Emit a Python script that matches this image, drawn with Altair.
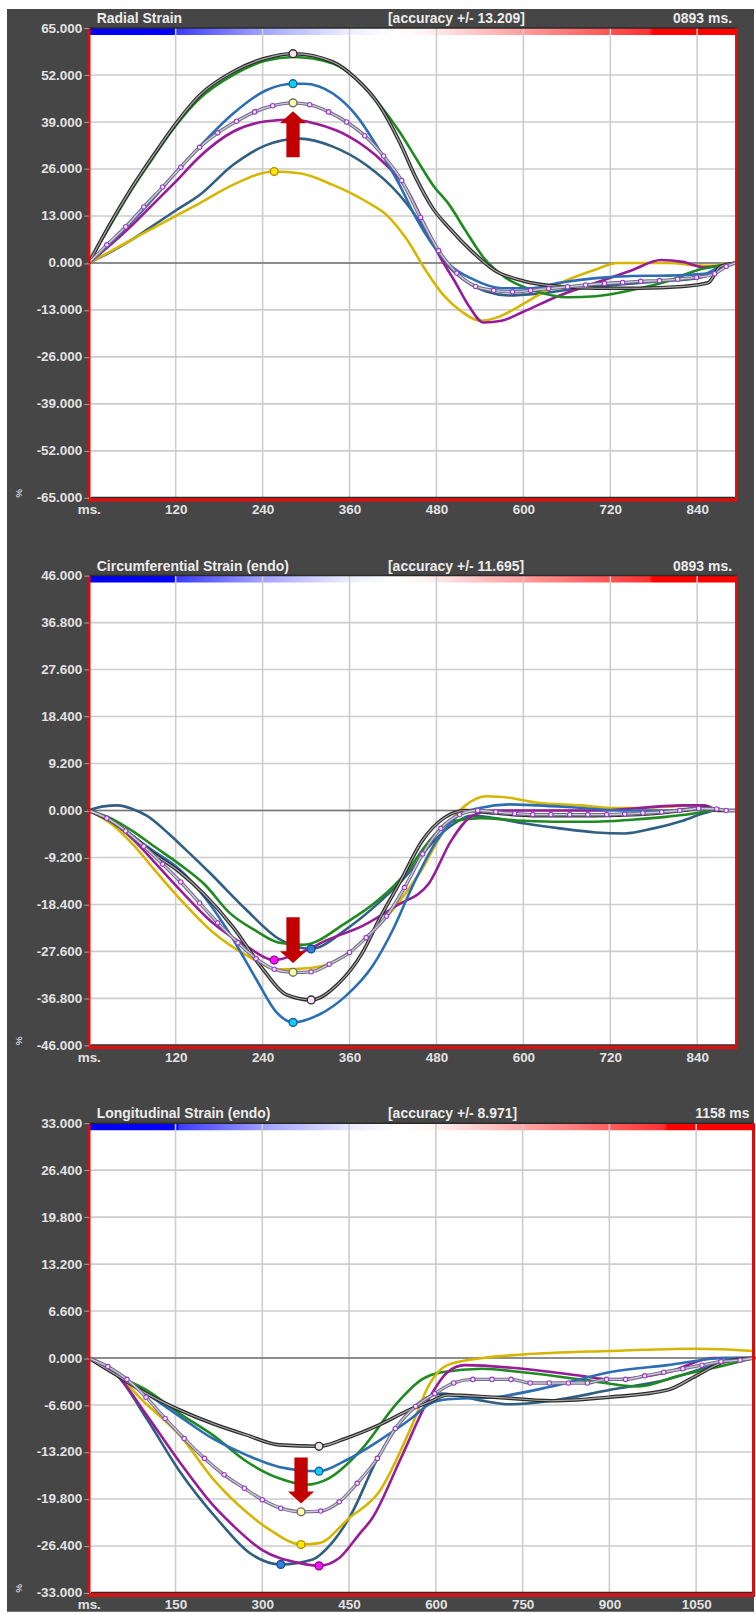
import altair as alt
import pandas as pd

# ---------------- colours ----------------
BG = "#464646"
GRID = "#cdcdcd"
C_GREEN = "#1f8a1f"
C_BLUE = "#2c6db4"
C_PURPLE = "#981c98"
C_SLATE = "#2f5f82"
C_YELLOW = "#d6b600"

# ---------------- Panel 1 : Radial Strain ----------------
P1_BLACK = [(0,0),(30,11),(60,21),(90,30),(120,38.5),(153,46.4),(199,52.9),(245,56.7),(282,57.9),(337,55.6),(369,51),(401,43.7),(429,33.5),(452,23.4),(475,15.1),(498,9.6),(530,3),(560,-2),(600,-5),(650,-6.5),(700,-7),(760,-7),(820,-6.5),(855,-5.5),(872,-1),(893,0)]
P1_GREEN = [(0,0),(30,10.5),(60,20.5),(90,29.5),(120,38),(153,45.5),(199,52),(245,56),(282,57),(337,55.2),(369,51),(401,44),(429,36.3),(452,28.9),(475,21.6),(498,16),(520,9),(545,1.5),(575,-4),(620,-8),(660,-9.5),(700,-9.2),(750,-7.5),(800,-5),(840,-2),(870,-0.8),(893,0)]
P1_BLUE = [(0,0),(30,5.5),(60,11.5),(90,18),(120,25),(153,32.2),(199,41.3),(245,47.8),(282,49.6),(297,49.6),(337,46.9),(369,40.9),(397,32.6),(429,21.6),(452,12.4),(475,5),(498,-0.5),(530,-4.5),(570,-7),(610,-7),(650,-5.5),(700,-4.2),(750,-3.6),(800,-3.5),(850,-3),(872,-1),(893,0)]
P1_PURPLE = [(0,0),(30,5),(60,10.5),(90,16.5),(120,22.5),(153,29.4),(199,36.3),(245,39.2),(282,39.7),(314,38.5),(360,34.9),(406,28),(438,20.7),(466,9.6),(484,2),(505,-5),(525,-12),(545,-16.5),(570,-16),(600,-13.5),(650,-9),(700,-5.5),(750,-2),(790,0.8),(820,0.3),(850,-1.2),(872,-0.8),(893,0)]
P1_SLATE = [(0,0),(30,3),(60,6.5),(90,10.5),(120,14.5),(153,18.8),(199,27.1),(245,32.6),(291,34.4),(337,32.2),(383,27.1),(429,18.8),(466,8.7),(491,0.4),(520,-5),(550,-8),(580,-9),(620,-8.5),(660,-7.5),(720,-6.2),(780,-5.2),(840,-4.2),(860,-3),(875,-0.8),(893,0)]
P1_YELLOW = [(0,0),(30,3.2),(60,6.5),(90,9.8),(120,13),(153,16.5),(199,21.6),(256,25.3),(291,24.8),(337,21.6),(383,17),(411,13.3),(438,6.8),(466,-2.3),(490,-9),(515,-13.5),(540,-16),(565,-15),(590,-12.5),(620,-9),(660,-4.8),(700,-1.8),(730,0),(800,0),(850,-0.8),(893,0)]
P1_AVG = [(0,0),(25,5),(51,10),(76,15.5),(102,21),(127,26.5),(153,32),(178,36),(204,39.2),(229,41.8),(254,43.5),(280,44.3),(305,43.8),(331,41.8),(356,39),(381,35.2),(407,29.6),(432,22.8),(458,12.6),(483,3.4),(508,-2.8),(534,-6.5),(559,-7.6),(585,-8),(610,-7.6),(635,-7.1),(661,-6.6),(686,-6.1),(712,-5.7),(737,-5.4),(762,-5.1),(788,-4.9),(813,-4.5),(839,-4),(864,-3),(880,-1),(893,0)]
P1_MK_MS = [282, 282, 282, 256]
P1_MK_V = [57.9, 49.6, 44.3, 25.3]
P1_MK_FILL = ["#f4e2f0", "#10d0f0", "#ffffa8", "#ffe600"]
P1_MK_STROKE = ["#303030", "#1d5fa0", "#707070", "#b09000"]
P1_ARROW = [(282, 35.6)]

# ---------------- Panel 2 : Circumferential Strain ----------------
P2_BLACK = [(0,0),(30,-2),(60,-5),(90,-8.5),(125,-12),(160,-16.5),(200,-23),(240,-31),(272,-36),(307,-37.1),(346,-33.7),(378,-27.8),(401,-21.3),(429,-14.2),(460,-6),(490,-1.5),(520,0),(560,-0.5),(620,-1),(700,-1),(760,-0.8),(820,0),(850,0.5),(870,0),(893,0)]
P2_BLUE = [(0,0),(30,-2),(60,-5),(90,-8),(125,-11.5),(160,-17),(194,-24),(231,-33),(259,-39.5),(282,-41.5),(319,-39.9),(355,-36.3),(392,-30.4),(420,-23.3),(447,-14.8),(480,-6),(510,-1),(540,0.5),(580,1.2),(620,1),(680,0.5),(740,0),(800,0),(840,0.5),(865,0),(893,0)]
P2_GREEN = [(0,0),(30,-1.5),(60,-4),(90,-7),(125,-10.5),(160,-14.5),(194,-20),(230,-23.5),(263,-25.9),(296,-26.3),(355,-22),(401,-17.4),(438,-12.2),(470,-6),(500,-2.2),(540,-1.5),(600,-2),(650,-2.2),(700,-2.2),(750,-1.8),(800,-1.2),(840,-0.5),(860,0),(893,0)]
P2_SLATE = [(0,0),(20,0.8),(40,1),(60,0.3),(80,-1),(110,-4.5),(140,-8.5),(167,-12.2),(217,-19.4),(263,-25.2),(307,-27.1),(355,-23.3),(401,-18),(442,-12.2),(470,-7),(500,-3),(530,-1),(560,-1.5),(600,-2.5),(650,-3.5),(700,-4.3),(740,-4.5),(780,-3.5),(820,-2),(850,-0.5),(865,0),(893,0)]
P2_PURPLE = [(0,0),(30,-2),(60,-5.5),(90,-10),(125,-15.4),(171,-22),(217,-26.5),(256,-29.3),(286,-28.2),(332,-25.2),(378,-22.6),(424,-18.7),(470,-14.2),(500,-6),(530,-1),(560,0),(620,0),(700,0),(760,0.5),(820,1),(850,1),(870,0),(893,0)]
P2_YELLOW = [(0,0),(30,-2.5),(60,-6.5),(90,-11.5),(125,-17.2),(171,-23.8),(217,-28.3),(263,-31.1),(309,-30.8),(355,-28.3),(383,-24.9),(424,-18.7),(457,-12.2),(490,-4),(520,1),(550,2.8),(580,2.5),(620,1.5),(680,1),(720,0.5),(760,0.5),(800,0.8),(840,1),(860,0),(893,0)]
P2_AVG = [(0,0),(25,-1.5),(51,-4),(76,-7),(102,-10.5),(127,-14),(153,-18.1),(178,-22),(206,-25.9),(231,-29),(256,-31.1),(282,-31.7),(307,-31.6),(332,-30.1),(360,-27.8),(383,-24.9),(411,-20.7),(436,-15.1),(461,-8.5),(486,-3.5),(512,-0.8),(537,0),(562,-0.3),(588,-0.6),(613,-0.8),(638,-0.8),(664,-0.8),(689,-0.8),(715,-0.8),(740,-0.7),(765,-0.5),(791,-0.3),(816,0),(842,0.4),(867,0.3),(880,0),(893,0)]
P2_MK_MS = [282, 307, 282, 256, 307]
P2_MK_V = [-41.5, -37.1, -31.7, -29.3, -27.1]
P2_MK_FILL = ["#10d0f0", "#f4e2f0", "#ffffa8", "#ff10ff", "#2f7fe0"]
P2_MK_STROKE = ["#1d5fa0", "#303030", "#707070", "#901090", "#1d4f90"]
P2_ARROW = [(282, -25.4)]

# ---------------- Panel 3 : Longitudinal Strain ----------------
P3_BLACK = [(0,0),(50,-2.5),(100,-5),(157,-7.3),(214,-9.2),(272,-10.8),(329,-12.2),(398,-12.4),(444,-11.3),(502,-9.4),(559,-7.1),(588,-6.2),(620,-5.2),(700,-5.5),(800,-6),(900,-5.5),(1000,-4.5),(1050,-2.5),(1100,-0.5),(1150,0)]
P3_BLUE = [(0,0),(50,-2.5),(100,-5),(157,-8.2),(214,-11.3),(272,-13.6),(329,-15.3),(398,-15.9),(444,-14.4),(502,-11.6),(559,-8.4),(588,-6.5),(620,-5.8),(700,-5.5),(800,-4),(900,-2),(1000,-1),(1100,0),(1150,0)]
P3_GREEN = [(0,0),(50,-2.5),(100,-4.5),(157,-7.8),(214,-10.8),(272,-14.5),(329,-16.9),(375,-17.8),(415,-16.9),(473,-12.7),(530,-6.6),(576,-3),(610,-2),(680,-1.5),(750,-2),(850,-3),(950,-4),(1020,-2.5),(1100,-1),(1150,0)]
P3_PURPLE = [(0,0),(50,-2.5),(100,-8),(157,-14.6),(214,-20.6),(249,-23.5),(300,-27),(364,-28.8),(398,-29.2),(433,-28.1),(467,-24.8),(490,-22.5),(540,-14),(588,-5.7),(620,-2),(650,-1),(750,-1.5),(850,-2.5),(900,-3),(1000,-2),(1080,0),(1150,0)]
P3_SLATE = [(0,0),(50,-2.5),(100,-8.5),(157,-15.9),(226,-23),(280,-27.5),(332,-29),(387,-28.3),(420,-26),(450,-22.5),(500,-14),(560,-7),(610,-5),(680,-6),(730,-6.5),(800,-6),(900,-4.5),(1000,-3),(1080,-1),(1120,0),(1150,0)]
P3_YELLOW = [(0,0),(50,-2.5),(100,-6.5),(157,-10.8),(214,-16.9),(272,-21.6),(318,-24.4),(367,-26.2),(398,-26),(450,-22.5),(502,-18.8),(559,-9.4),(588,-3.8),(620,-1),(681,0),(750,0.5),(900,1),(1050,1.3),(1150,1)]
P3_AVG = [(0,0),(33,-1.2),(66,-3),(99,-5.5),(132,-8.5),(165,-11.3),(200,-14.1),(234,-16.4),(269,-18.3),(300,-19.9),(332,-21.1),(367,-21.6),(401,-21.5),(433,-20.2),(464,-17.6),(499,-14.1),(530,-9.9),(565,-6.8),(598,-5),(631,-3.5),(664,-3),(697,-3),(730,-3),(763,-3.5),(796,-3.5),(829,-3.5),(862,-3.5),(895,-3),(928,-3),(961,-2.5),(994,-2),(1027,-1.5),(1060,-1),(1093,-0.5),(1126,-0.3),(1150,0)]
P3_MK_MS = [398, 398, 367, 367, 332, 398]
P3_MK_V = [-12.4, -15.9, -21.6, -26.2, -29.0, -29.2]
P3_MK_FILL = ["#f4e2f0", "#10d0f0", "#ffffa8", "#ffe600", "#2f7fe0", "#ff10ff"]
P3_MK_STROKE = ["#303030", "#1d5fa0", "#707070", "#b09000", "#1d4f90", "#901090"]
P3_ARROW = [(367, -17.2)]

# ---------------- axes ticks ----------------
P1_XTICKS = [0, 120, 240, 360, 480, 600, 720, 840]
P1_YTICKS = [-65, -52, -39, -26, -13, 0, 13, 26, 39, 52, 65]
P2_YTICKS = [-46, -36.8, -27.6, -18.4, -9.2, 0, 9.2, 18.4, 27.6, 36.8, 46]
P3_XTICKS = [0, 150, 300, 450, 600, 750, 900, 1050]
P3_YTICKS = [-33, -26.4, -19.8, -13.2, -6.6, 0, 6.6, 13.2, 19.8, 26.4, 33]

UP_ARROW = "M0,-1 L0.57,-0.48 L0.29,-0.48 L0.29,1 L-0.29,1 L-0.29,-0.48 L-0.57,-0.48 Z"
DOWN_ARROW = "M0,1 L0.57,0.48 L0.29,0.48 L0.29,-1 L-0.29,-1 L-0.29,0.48 L-0.57,0.48 Z"

FONT = "Liberation Sans"
LABEL_COL = "#e2e2e2"
ONE = pd.DataFrame({"a": [0]})

GRADIENT = alt.LinearGradient(
    gradient="linear", x1=0, x2=1, y1=0, y2=0,
    stops=[
        alt.GradientStop(color="#0000ee", offset=0),
        alt.GradientStop(color="#0000ff", offset=0.133),
        alt.GradientStop(color="#3c3cff", offset=0.136),
        alt.GradientStop(color="#a4a4ff", offset=0.27),
        alt.GradientStop(color="#ececff", offset=0.40),
        alt.GradientStop(color="#ffffff", offset=0.47),
        alt.GradientStop(color="#fff2f2", offset=0.52),
        alt.GradientStop(color="#ffc4c4", offset=0.60),
        alt.GradientStop(color="#ff7c7c", offset=0.73),
        alt.GradientStop(color="#ff3030", offset=0.865),
        alt.GradientStop(color="#ff0000", offset=0.87),
        alt.GradientStop(color="#ff0000", offset=1),
    ],
)


def panel(title, acc, tlabel, tl_x, tl_align, series, avg, mk, arrow, arrow_shape,
          xdom, xticks, yticks, W, H, first=False):
    xs = alt.Scale(domain=xdom, nice=False, zero=False)
    ys = alt.Scale(domain=[yticks[0], yticks[-1]], nice=False, zero=False)
    xaxis = alt.Axis(values=xticks, labelExpr="datum.value == 0 ? 'ms.' : format(datum.value, 'd')",
                     labelColor=LABEL_COL, labelFont=FONT, labelFontSize=13.5, labelFontWeight="bold",
                     labelPadding=5, tickSize=0, domain=False, grid=False, title=None,
                     labelFlush=False, labelOverlap=False, zindex=2)
    yaxis = alt.Axis(values=yticks, labelExpr="replace(format(datum.value, '.3f'), '\u2212', '-')",
                     labelColor=LABEL_COL, labelFont=FONT, labelFontSize=13.5, labelFontWeight="bold",
                     labelPadding=2, tickSize=5, tickColor="#a8a8a8", tickWidth=1, domain=False,
                     grid=False, title="%", titleColor="#cfcfcf", titleFont=FONT, titleFontSize=10,
                     titleFontWeight="bold", titleAngle=270, titleX=-70, titleY=H - 5,
                     titleAlign="center", titleBaseline="middle",
                     labelFlush=False, labelOverlap=False, zindex=2)

    def X(field):
        return alt.X(field, scale=xs, axis=xaxis)

    def Y(field):
        return alt.Y(field, scale=ys, axis=yaxis)

    layers = []
    if first:
        layers.append(alt.Chart(ONE).mark_rect(fill=BG).encode(
            x=alt.value(-82), x2=alt.value(667), y=alt.value(-19), y2=alt.value(1588)))
    # white plotting area
    layers.append(alt.Chart(ONE).mark_rect(fill="white").encode(
        x=alt.value(0), x2=alt.value(W), y=alt.value(0), y2=alt.value(H)))
    # colour bar at the top
    layers.append(alt.Chart(ONE).mark_rect(fill=GRADIENT).encode(
        x=alt.value(0), x2=alt.value(W), y=alt.value(0), y2=alt.value(7)))
    # grid
    layers.append(alt.Chart(pd.DataFrame({"ms": xticks[1:]})).mark_rule(color=GRID, strokeWidth=1.6).encode(
        x=X("ms:Q"), y=alt.value(0), y2=alt.value(H)))
    layers.append(alt.Chart(pd.DataFrame({"v": yticks[1:-1]})).mark_rule(color=GRID, strokeWidth=1.6).encode(
        y=Y("v:Q"), x=alt.value(0), x2=alt.value(W)))
    layers.append(alt.Chart(pd.DataFrame({"v": [0]})).mark_rule(color="#737373", strokeWidth=1.6).encode(
        y=Y("v:Q"), x=alt.value(0), x2=alt.value(W)))

    for pts, styles in series:
        df = pd.DataFrame(pts, columns=["ms", "v"])
        for col, sw in styles:
            layers.append(alt.Chart(df).mark_line(color=col, strokeWidth=sw, interpolate="monotone",
                                                  strokeJoin="round", strokeCap="round").encode(
                x=X("ms:Q"), y=Y("v:Q")))
    # average curve dots
    adf = pd.DataFrame(avg[1:-1], columns=["ms", "v"])
    layers.append(alt.Chart(adf).mark_point(shape="circle", filled=True, size=20, fill="#f2e4f4",
                                            stroke="#9040c8", strokeWidth=1.1, opacity=1).encode(
        x=X("ms:Q"), y=Y("v:Q")))
    # peak markers
    mdf = pd.DataFrame({"ms": mk[0], "v": mk[1], "f": mk[2], "s": mk[3]})
    layers.append(alt.Chart(mdf).mark_point(shape="circle", filled=True, size=62, strokeWidth=1.4, opacity=1).encode(
        x=X("ms:Q"), y=Y("v:Q"),
        fill=alt.Fill("f:N", scale=None), stroke=alt.Stroke("s:N", scale=None)))
    # red arrow
    ardf = pd.DataFrame(arrow, columns=["ms", "v"])
    layers.append(alt.Chart(ardf).mark_point(shape=arrow_shape, filled=True, size=2116, color="#c20000",
                                             opacity=1, strokeWidth=0).encode(
        x=X("ms:Q"), y=Y("v:Q")))
    # frame
    layers.append(alt.Chart(ONE).mark_rule(color="#2a2a2a", strokeWidth=1.5).encode(
        x=alt.value(0), x2=alt.value(W), y=alt.value(0)))
    layers.append(alt.Chart(ONE).mark_rule(color="#dd0c0c", strokeWidth=2.5).encode(
        x=alt.value(0.5), y=alt.value(0), y2=alt.value(H + 4)))
    layers.append(alt.Chart(ONE).mark_rule(color="#dd0c0c", strokeWidth=3).encode(
        x=alt.value(W - 0.5), y=alt.value(0), y2=alt.value(H + 4)))
    layers.append(alt.Chart(ONE).mark_rect(fill="#d21414").encode(
        x=alt.value(0), x2=alt.value(W), y=alt.value(H), y2=alt.value(H + 4)))
    layers.append(alt.Chart(ONE).mark_rule(color="#2a2a2a", strokeWidth=1.2).encode(
        x=alt.value(2), x2=alt.value(W - 2), y=alt.value(H - 0.5)))
    # header texts
    tstyle = dict(font=FONT, fontSize=14, fontWeight="bold", color="#ececec", baseline="alphabetic")
    layers.append(alt.Chart(ONE).mark_text(align="left", **tstyle).encode(
        x=alt.value(8), y=alt.value(-5), text=alt.value(title)))
    layers.append(alt.Chart(ONE).mark_text(align="left", **tstyle).encode(
        x=alt.value(300), y=alt.value(-5), text=alt.value(acc)))
    layers.append(alt.Chart(ONE).mark_text(align=tl_align, **tstyle).encode(
        x=alt.value(tl_x), y=alt.value(-5), text=alt.value(tlabel)))

    return alt.layer(*layers).properties(width=W, height=H)


def styles_plain(c):
    return [(c, 2.6)]


BLACK_STYLE = [("#2b2b2b", 3.6), ("#a9a9a9", 1.2)]
AVG_STYLE = [("#706888", 3.4), ("#cfc8dc", 1.4)]

p1 = panel("Radial Strain", "[accuracy +/- 13.209]", "0893 ms.", 645, "right",
           [(P1_SLATE, styles_plain(C_SLATE)), (P1_YELLOW, styles_plain(C_YELLOW)),
            (P1_PURPLE, styles_plain(C_PURPLE)), (P1_GREEN, styles_plain(C_GREEN)),
            (P1_BLUE, styles_plain(C_BLUE)), (P1_BLACK, BLACK_STYLE), (P1_AVG, AVG_STYLE)],
           P1_AVG, (P1_MK_MS, P1_MK_V, P1_MK_FILL, P1_MK_STROKE), P1_ARROW, UP_ARROW,
           [0, 895], P1_XTICKS, P1_YTICKS, 650, 471, first=True)

p2 = panel("Circumferential Strain (endo)", "[accuracy +/- 11.695]", "0893 ms.", 645, "right",
           [(P2_SLATE, styles_plain(C_SLATE)), (P2_GREEN, styles_plain(C_GREEN)),
            (P2_YELLOW, styles_plain(C_YELLOW)), (P2_PURPLE, styles_plain(C_PURPLE)),
            (P2_BLUE, styles_plain(C_BLUE)), (P2_BLACK, BLACK_STYLE), (P2_AVG, AVG_STYLE)],
           P2_AVG, (P2_MK_MS, P2_MK_V, P2_MK_FILL, P2_MK_STROKE), P2_ARROW, DOWN_ARROW,
           [0, 895], P1_XTICKS, P2_YTICKS, 650, 471)

p3 = panel("Longitudinal Strain (endo)", "[accuracy +/- 8.971]", "1158 ms", 608, "left",
           [(P3_SLATE, styles_plain(C_SLATE)), (P3_GREEN, styles_plain(C_GREEN)),
            (P3_YELLOW, styles_plain(C_YELLOW)), (P3_PURPLE, styles_plain(C_PURPLE)),
            (P3_BLUE, styles_plain(C_BLUE)), (P3_BLACK, BLACK_STYLE), (P3_AVG, AVG_STYLE)],
           P3_AVG, (P3_MK_MS, P3_MK_V, P3_MK_FILL, P3_MK_STROKE), P3_ARROW, DOWN_ARROW,
           [0, 1150], P3_XTICKS, P3_YTICKS, 667, 471)

chart = alt.vconcat(p1, p2, p3, spacing=78, bounds="flush").properties(
    padding={"left": 7, "top": 7, "right": 0, "bottom": 0},
    background="white",
).configure_view(strokeWidth=0)

chart.save("out.html", embed_options={"renderer": "svg", "actions": False})
